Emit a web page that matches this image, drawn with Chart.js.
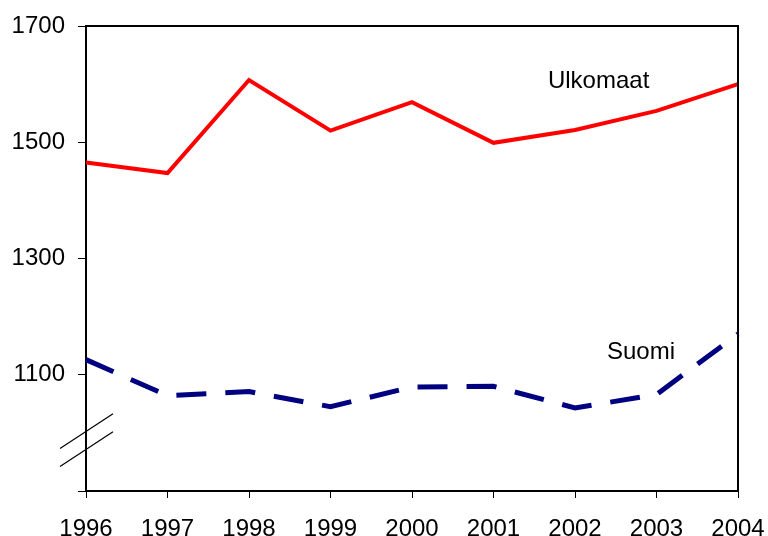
<!DOCTYPE html>
<html>
<head>
<meta charset="utf-8">
<script src="https://cdn.jsdelivr.net/npm/chart.js@4/dist/chart.umd.min.js"></script>
<style>
  html, body { margin: 0; padding: 0; background: #fff; }
  #wrap { width: 768px; height: 536px; }
</style>
</head>
<body>
<div id="wrap"><canvas id="chart"></canvas></div>
<script>
const years = ['1996', '1997', '1998', '1999', '2000', '2001', '2002', '2003', '2004'];
const ulkomaat = [1465, 1447, 1607, 1520, 1569, 1499, 1521, 1554, 1600];
const suomi = [1126, 1064, 1071, 1045, 1079, 1080, 1043, 1066, 1170];
const yTicks = [900, 1100, 1300, 1500, 1700];

// series labels written inside the plot (index on x axis, value on y axis)
const seriesLabels = [
  {text: 'Ulkomaat', x: 6.29, y: 1604},
  {text: 'Suomi', x: 6.81, y: 1138}
];

const font = 'Liberation Sans, Arial, sans-serif';

// draws top/right frame, axis break marks and the series labels
const extras = {
  id: 'extras',
  afterDraw(chart) {
    const {ctx, chartArea: a, scales: {x, y}} = chart;
    ctx.save();
    ctx.strokeStyle = '#000';
    ctx.lineWidth = 2;
    ctx.beginPath();
    ctx.moveTo(a.left, a.top);
    ctx.lineTo(a.right, a.top);
    ctx.lineTo(a.right, a.bottom);
    ctx.stroke();

    // axis break
    ctx.lineWidth = 1.2;
    [0, -31].forEach(off => {
      ctx.beginPath();
      ctx.moveTo(a.left - 26, y.getPixelForValue(973 + off));
      ctx.lineTo(a.left + 27, y.getPixelForValue(1033 + off));
      ctx.stroke();
    });

    ctx.fillStyle = '#000';
    ctx.font = '24px ' + font;
    ctx.textAlign = 'center';
    ctx.textBaseline = 'middle';
    seriesLabels.forEach(l => {
      ctx.fillText(l.text, x.getPixelForValue(l.x), y.getPixelForValue(l.y));
    });
    ctx.restore();
  }
};

new Chart(document.getElementById('chart'), {
  type: 'line',
  data: {
    labels: years,
    datasets: [
      {
        label: 'Ulkomaat',
        data: ulkomaat,
        borderColor: '#ff0000',
        borderWidth: 4,
        pointRadius: 0,
        tension: 0
      },
      {
        label: 'Suomi',
        data: suomi,
        borderColor: '#000080',
        borderWidth: 5,
        borderDash: [30, 19],
        borderCapStyle: 'butt',
        pointRadius: 0,
        tension: 0
      }
    ]
  },
  options: {
    responsive: true,
    maintainAspectRatio: false,
    animation: false,
    layout: { padding: { top: 26, right: 30, left: 0, bottom: 0 } },
    plugins: { legend: { display: false }, tooltip: { enabled: false } },
    scales: {
      x: {
        offset: false,
        grid: { drawOnChartArea: false, drawTicks: true, tickLength: 7, color: '#000' },
        border: { color: '#000', width: 2 },
        ticks: { color: '#000', font: { family: font, size: 24 }, padding: 17, maxRotation: 0 },
        afterFit(scale) {
          scale.height = 45;
          scale.paddingLeft = 0;
          scale.paddingRight = 0;
        }
      },
      y: {
        min: 900,
        max: 1700,
        afterBuildTicks(scale) { scale.ticks = yTicks.map(v => ({value: v})); },
        grid: { drawOnChartArea: false, drawTicks: true, tickLength: 8, color: '#000' },
        border: { color: '#000', width: 2 },
        ticks: {
          color: '#000',
          font: { family: font, size: 24 },
          padding: 13,
          callback: v => (v === 900 ? '' : v)
        },
        afterFit(scale) {
          scale.width = 86;
          scale.paddingTop = 0;
          scale.paddingBottom = 0;
        }
      }
    }
  },
  plugins: [extras]
});
</script>
</body>
</html>
